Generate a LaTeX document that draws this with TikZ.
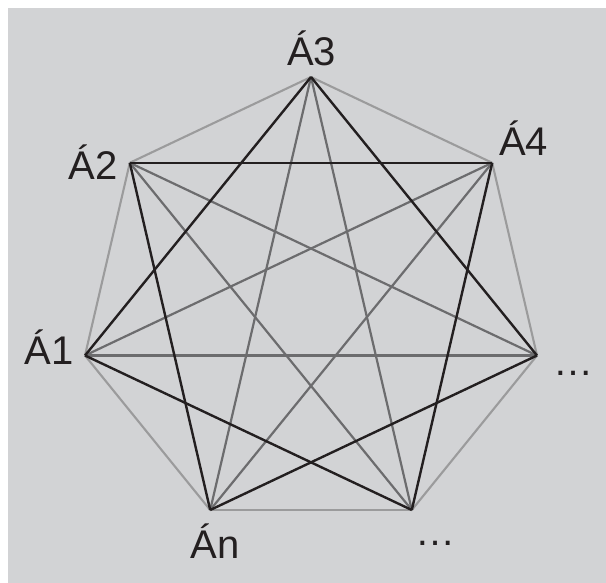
\documentclass[tikz,border=0pt]{standalone}
\usepackage{fontspec}
\setmainfont{Liberation Sans}
\usepackage{tikz}
\usetikzlibrary{positioning}
\definecolor{panel}{RGB}{210,211,213}
\definecolor{side}{RGB}{155,155,156}
\definecolor{far}{RGB}{108,108,110}
\definecolor{near}{RGB}{35,31,32}
\tikzset{
  vlbl/.style={inner sep=0pt, font=\fontsize{40}{48}\selectfont, text=near},
  sideline/.style={draw=side, line width=2.1pt},
  farline/.style={draw=far, line width=2.2pt},
  nearline/.style={draw=near, line width=2.4pt}
}
\begin{document}
\begin{tikzpicture}[x=1pt, y=-1pt, line join=round]
    \useasboundingbox (0,0) rectangle (606,583);
    \fill[panel] (8,8) rectangle (606,583);
    % vertices of the heptagon
    \coordinate (a3) at (311,77);
    \coordinate (a4) at (492.2,162.8);
    \coordinate (ax) at (537,355.5);
    \coordinate (ay) at (411.8,510);
    \coordinate (an) at (210.2,510);
    \coordinate (a1) at (85,355.5);
    \coordinate (a2) at (129.8,162.8);
    % labels
    \node[vlbl, anchor=base] (l3) at (311.5,66) {Á3};
    \node[vlbl, anchor=base west] (l4) at (499,156) {Á4};
    \node[vlbl, anchor=base east] (l2) at (118,180) {Á2};
    \node[vlbl, anchor=base east] (l1) at (74,364) {Á1};
    \node[vlbl, anchor=base] (ln) at (215,558) {Án};
    \node[vlbl, anchor=base] (lx) at (573,375) {…};
    \node[vlbl, anchor=base] (ly) at (435,545) {…};
    % sides
    \foreach \s/\t in {a3/a4, a4/ax, ax/ay, ay/an, an/a1, a1/a2, a2/a3}
      \draw[sideline] (\s) -- (\t);
    % long diagonals
    \foreach \s/\t in {a3/an, a3/ay, a2/ay, a2/ax, a4/a1, a4/an, a1/ax}
      \draw[farline] (\s) -- (\t);
    % short diagonals
    \foreach \s/\t in {a3/a1, a3/ax, a2/a4, a2/an, a4/ay, a1/ay, ax/an}
      \draw[nearline] (\s) -- (\t);
\end{tikzpicture}
\end{document}
